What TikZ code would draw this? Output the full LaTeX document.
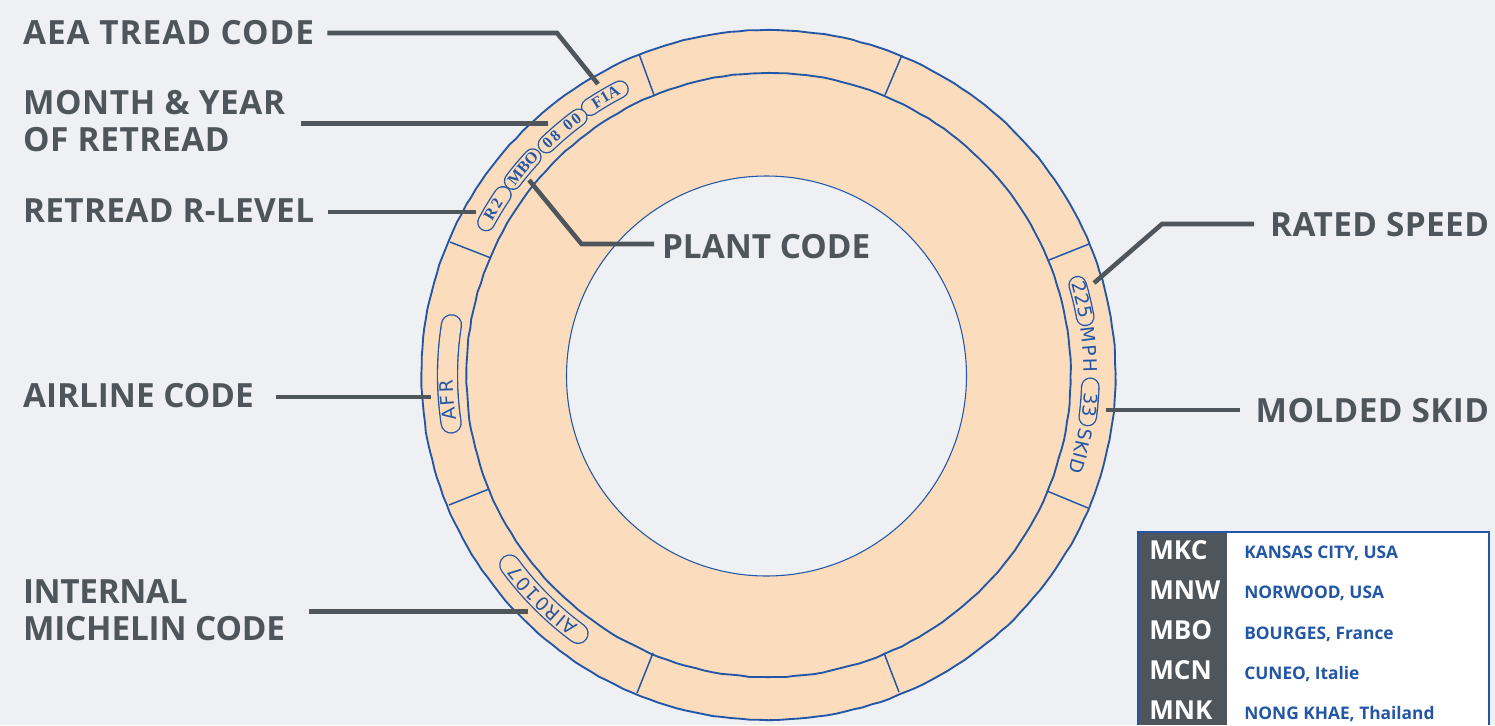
\documentclass[tikz,border=0pt]{standalone}
\usepackage{fontspec}
\setmainfont{Open Sans}
\newfontfamily\stampsans{DejaVu Sans}
\newfontfamily\stampserif{Liberation Serif}
\usetikzlibrary{decorations.text,decorations.pathmorphing}
\definecolor{bgc}{HTML}{EEF0F3}
\definecolor{peach}{HTML}{FBDDBE}
\definecolor{slate}{HTML}{4F565B}
\definecolor{inkblue}{HTML}{2356A5}
\tikzset{
  lbl/.style={font=\fontsize{25}{27.75}\selectfont\bfseries,text=slate,inner sep=0pt,outer sep=0pt,anchor=base west},
  lblr/.style={lbl,anchor=base east},
  leader/.style={draw=slate,line width=3.4pt,miter limit=10},
  ringline/.style={draw=inkblue,line width=1.4pt,decorate,decoration={random steps,segment length=7pt,amplitude=0.3pt}},
  sepline/.style={draw=inkblue,line width=1.1pt},
  stampline/.style={draw=inkblue,line width=1pt,double=peach,line cap=round},
  codelbl/.style={font=\fontsize{19.6}{22}\selectfont\bfseries,text=white,inner sep=0pt,anchor=base west},
  citylbl/.style={font=\fontsize{13}{15}\selectfont\bfseries,text=inkblue,inner sep=0pt,anchor=base west},
}
% #1 radius, #2 start angle, #3 end angle, #4 inner width in pt
\newcommand\stamppill[4]{\draw[stampline,double distance=#4pt] (#2:#1) arc[start angle=#2,end angle=#3,radius=#1];}
% #1 font, #2 radius of baseline, #3 start angle, #4 end angle, #5 text
\newcommand\stamptext[5]{\path[decorate,decoration={text along path,text color=inkblue,text align=fit to path,text={|#1|#5}}] (#3:#2) arc[start angle=#3,end angle=#4,radius=#2];}
\newcommand\fontSansStamp{\fontsize{14}{15}\selectfont\stampsans}
\newcommand\fontSerifStamp{\fontsize{12}{13}\selectfont\bfseries\stampserif}
\newcommand\spaced[1]{\addfontfeature{LetterSpace=#1}}
\begin{document}
\begin{tikzpicture}[x=0.75pt,y=-0.75pt]
\useasboundingbox (0,0) rectangle (1495,725);
\fill[bgc] (0,0) rectangle (1495,725);
% wheel
\path[fill=peach,ringline] (768.5,375) ellipse [x radius=347,y radius=345];
\path[ringline] (768.5,375) circle [radius=302];
\fill[bgc,draw=inkblue,line width=0.8pt] (766.5,376) circle [radius=200];
\draw[sepline] (639,54) -- (654,95);
\draw[sepline] (902,55) -- (885,95);
\draw[sepline] (450,242) -- (491,258);
\draw[sepline] (1089,244) -- (1049,260);
\draw[sepline] (1047,491) -- (1088,508);
\draw[sepline] (449,505) -- (489,489);
\draw[sepline] (653,653) -- (637,693);
\draw[sepline] (884,653) -- (899,692);
% stamps
\begin{scope}[shift={(768.5,375)},y=0.75pt]
  \stamppill{322}{123.7}{117.5}{11.5}
  \stamppill{320}{133.9}{126.4}{11.5}
  \stamppill{321}{142.8}{137.3}{11.5}
  \stamppill{321}{151.6}{145.9}{11.5}
  \stamppill{322}{16.2}{10.4}{12}
  \stamppill{322}{-2.1}{-7.5}{12}
  \stamppill{321}{171}{188.6}{14}
  \stamppill{321}{216.3}{233.6}{14}
  \stamptext{\fontSerifStamp}{317}{123}{118}{F1A}
  \stamptext{\fontSerifStamp}{315}{134.3}{126.2}{08 00}
  \stamptext{\fontSerifStamp}{316}{143.4}{137}{MBO}
  \stamptext{\fontSerifStamp}{316}{151}{147}{R2}
  \stamptext{\fontSansStamp}{316}{16.8}{10.2}{225}
  \stamptext{\fontSansStamp}{315}{8.6}{0.5}{MPH}
  \stamptext{\fontSansStamp}{316}{-3.2}{-6.6}{33}
  \stamptext{\fontSansStamp}{315}{-9.5}{-17.8}{SKID}
  \stamptext{\fontSansStamp}{315}{188.2}{180.8}{AFR}
  \stamptext{\fontSansStamp}{315}{232.8}{217}{AIR0107}
\end{scope}
% labels
\node[lbl] (aea) at (23,44) {\spaced{3}AEA TREAD CODE};
\node[lbl,anchor=west,align=left] (month) at (23,121.5) {\spaced{1.8}MONTH \& YEAR\\\spaced{1.8}OF RETREAD};
\node[lbl] (rlevel) at (23,222) {\spaced{1.1}RETREAD R-LEVEL};
\node[lbl] (plant) at (662,258) {PLANT CODE};
\node[lbl] (airline) at (23,407) {AIRLINE CODE};
\node[lbl,anchor=west,align=left] (internal) at (23,610) {\spaced{-1}INTERNAL\\\spaced{-0.5}MICHELIN CODE};
\node[lblr] (rated) at (1489,236) {\spaced{1.2}RATED SPEED};
\node[lblr] (molded) at (1489,422) {\spaced{1.2}MOLDED SKID};
% connector ends
\coordinate (aeaB) at (557,33);
\coordinate (aeaE) at (598,84);
\coordinate (monthE) at (548,123.5);
\coordinate (rlevelE) at (476,212);
\coordinate (plantB) at (581.5,244);
\coordinate (plantE) at (529,180);
\coordinate (airlineE) at (431,397);
\coordinate (internalE) at (528,611.5);
\coordinate (ratedB) at (1162,224);
\coordinate (ratedE) at (1094,283);
\coordinate (moldedE) at (1106,410);
\draw[leader] ([xshift=10pt]aea.east |- aeaB) -- (aeaB) -- (aeaE);
\draw[leader] ([xshift=12pt]month.east |- monthE) -- (monthE);
\draw[leader] ([xshift=10.5pt]rlevel.east |- rlevelE) -- (rlevelE);
\draw[leader] ([xshift=-6pt]plant.west |- plantB) -- (plantB) -- (plantE);
\draw[leader] ([xshift=17pt]airline.east |- airlineE) -- (airlineE);
\draw[leader] ([xshift=18pt]internal.east |- internalE) -- (internalE);
\draw[leader] ([xshift=-12pt]rated.west |- ratedB) -- (ratedB) -- (ratedE);
\draw[leader] ([xshift=-12pt]molded.west |- moldedE) -- (moldedE);
% table
\fill[white] (1138,532) rectangle (1489,725);
\fill[slate] (1138,532) rectangle (1227,725);
\draw[draw=inkblue,line width=0.8pt] (1138,725) -- (1138,532) -- (1489,532) -- (1489,725);
\node[codelbl] (c1) at (1149,559) {MKC};
\node[codelbl] (c2) at (1149,599) {MNW};
\node[codelbl] (c3) at (1149,639) {MBO};
\node[codelbl] (c4) at (1149,679) {MCN};
\node[codelbl] (c5) at (1149,719) {MNK};
\node[citylbl] (n1) at (1244,558.5) {KANSAS CITY, USA};
\node[citylbl] (n2) at (1244,598.5) {NORWOOD, USA};
\node[citylbl] (n3) at (1244,639) {BOURGES, France};
\node[citylbl] (n4) at (1244,679) {CUNEO, Italie};
\node[citylbl] (n5) at (1244,719) {NONG KHAE, Thailand};
\end{tikzpicture}
\end{document}
